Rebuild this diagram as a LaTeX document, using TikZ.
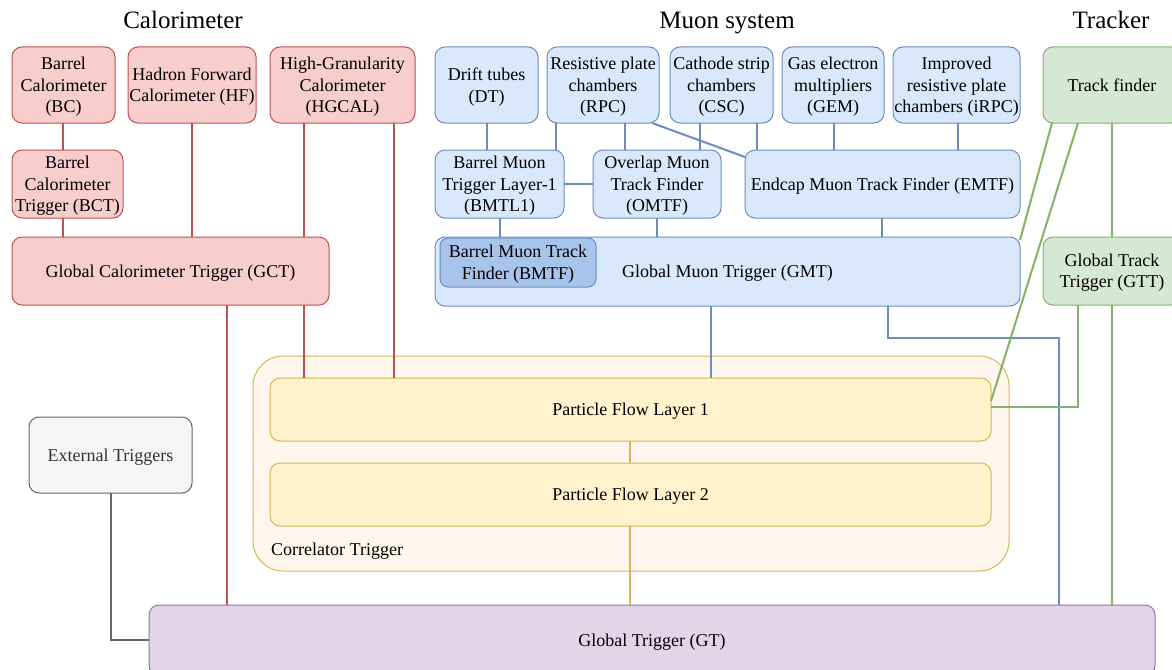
\documentclass[tikz,border=0pt]{standalone}
\usepackage{fontspec}
\setmainfont{Liberation Serif}
\definecolor{redF}{HTML}{F8CECC}
\definecolor{redD}{HTML}{B85450}
\definecolor{blueF}{HTML}{DAE8FC}
\definecolor{blueD}{HTML}{6C8EBF}
\definecolor{bmtfF}{HTML}{A9C4EB}
\definecolor{greenF}{HTML}{D5E8D4}
\definecolor{greenD}{HTML}{82B366}
\definecolor{yelF}{HTML}{FFF2CC}
\definecolor{yelD}{HTML}{D6B656}
\definecolor{ctF}{HTML}{FFF6EE}
\definecolor{grayF}{HTML}{F5F5F5}
\definecolor{grayD}{HTML}{666666}
\definecolor{grayT}{HTML}{333333}
\definecolor{purF}{HTML}{E1D5E7}
\definecolor{purD}{HTML}{9673A6}
\newcommand{\bx}[7]{\node[#6, minimum width={#4-#2}, minimum height={#5-#3}] (#1) at ({(#2+#4)/2},{(#3+#5)/2}) {#7};}
\tikzset{
  base/.style={rounded corners=10pt, line width=1pt, inner sep=0pt, outer sep=0pt, align=center, text depth=0pt, font=\fontsize{18}{21.5}\selectfont},
  redbox/.style={base, fill=redF, draw=redD},
  bluebox/.style={base, fill=blueF, draw=blueD},
  bmtfbox/.style={base, rounded corners=8pt, fill=bmtfF, draw=blueD},
  greenbox/.style={base, fill=greenF, draw=greenD},
  ybox/.style={base, fill=yelF, draw=yelD},
  ctbox/.style={base, rounded corners=30pt, fill=ctF, draw=yelD},
  graybox/.style={base, fill=grayF, draw=grayD, text=grayT},
  purbox/.style={base, fill=purF, draw=purD},
  title/.style={inner sep=0pt, anchor=base, font=\fontsize{25}{30}\selectfont},
  lbl/.style={inner sep=0pt, anchor=west, text depth=0pt, font=\fontsize{18}{21.5}\selectfont},
  redl/.style={draw=redD, line width=2pt},
  bluel/.style={draw=blueD, line width=2pt},
  greenl/.style={draw=greenD, line width=2pt},
  yell/.style={draw=yelD, line width=1.5pt},
  grayl/.style={draw=grayD, line width=2pt},
}
\begin{document}
\begin{tikzpicture}[x=1pt, y=-1pt]
\useasboundingbox (0,0) rectangle (1172,669);
\clip (0,0) rectangle (1172,669);
\fill[white] (0,0) rectangle (1172,669);

% titles
\node[title] (tcal) at (183,29) {Calorimeter};
\node[title] (tmuon) at (727,29) {Muon system};
\node[title] (ttrk) at (1111,29) {Tracker};

% correlator container
\bx{ct}{253}{356}{1009}{571}{ctbox}{}
\node[lbl] (ctl) at (271,549) {Correlator Trigger};

% calorimeter
\bx{bc}{12}{47}{115}{123}{redbox}{Barrel\\Calorimeter\\(BC)}
\bx{hf}{128}{47}{256}{123}{redbox}{Hadron Forward\\Calorimeter (HF)}
\bx{hgcal}{270}{47}{415}{123}{redbox}{High-Granularity\\Calorimeter\\(HGCAL)}
\bx{bct}{12}{150}{123}{218}{redbox}{Barrel\\Calorimeter\\Trigger (BCT)}
\bx{gct}{12}{237}{329}{305}{redbox}{Global Calorimeter Trigger (GCT)}

% muon
\bx{dt}{435}{47}{538}{123}{bluebox}{Drift tubes\\(DT)}
\bx{rpc}{547}{47}{659}{123}{bluebox}{Resistive plate\\chambers\\(RPC)}
\bx{csc}{670}{47}{773}{123}{bluebox}{Cathode strip\\chambers\\(CSC)}
\bx{gem}{782}{47}{884}{123}{bluebox}{Gas electron\\multipliers\\(GEM)}
\bx{irpc}{893}{47}{1020}{123}{bluebox}{Improved\\resistive plate\\chambers (iRPC)}
\bx{bmtl}{435}{150}{564}{218}{bluebox}{Barrel Muon\\Trigger Layer-1\\(BMTL1)}
\bx{omtf}{593}{150}{721}{218}{bluebox}{Overlap Muon\\Track Finder\\(OMTF)}
\bx{emtf}{745}{150}{1020}{218}{bluebox}{Endcap Muon Track Finder (EMTF)}
\bx{gmt}{435}{237}{1020}{306}{bluebox}{Global Muon Trigger (GMT)}
\bx{bmtf}{440}{238}{596}{287}{bmtfbox}{Barrel Muon Track\\Finder (BMTF)}

% tracker
\bx{tf}{1043}{47}{1181}{123}{greenbox}{Track finder}
\bx{gtt}{1043}{237}{1181}{305}{greenbox}{Global Track\\Trigger (GTT)}

% correlator
\bx{pf1}{270}{378}{991}{441}{ybox}{Particle Flow Layer 1}
\bx{pf2}{270}{463}{991}{526}{ybox}{Particle Flow Layer 2}

% external and GT
\bx{ext}{29}{417}{192}{493}{graybox}{External Triggers}
\bx{gt}{149}{605}{1155}{675}{purbox}{Global Trigger (GT)}

% red connectors
\draw[redl] (bc.south -| 63,0) -- (bct.north -| 63,0);
\draw[redl] (bct.south -| 63,0) -- (gct.north -| 63,0);
\draw[redl] (hf.south -| 192,0) -- (gct.north -| 192,0);
\draw[redl] (hgcal.south -| 304,0) -- (gct.north -| 304,0);
\draw[redl] (hgcal.south -| 394,0) -- (pf1.north -| 394,0);
\draw[redl] (gct.south -| 227,0) -- (gt.north -| 227,0);
\draw[redl] (gct.south -| 304,0) -- (pf1.north -| 304,0);

% blue connectors
\draw[bluel] (dt.south -| 487,0) -- (bmtl.north -| 487,0);
\draw[bluel] (rpc.south -| 556,0) -- (bmtl.north -| 556,0);
\draw[bluel] (rpc.south -| 625,0) -- (omtf.north -| 625,0);
\draw[bluel] (rpc.south -| 652,0) -- (emtf.west |- 0,157);
\draw[bluel] (csc.south -| 700,0) -- (omtf.north -| 700,0);
\draw[bluel] (csc.south -| 757,0) -- (emtf.north -| 757,0);
\draw[bluel] (gem.south -| 834,0) -- (emtf.north -| 834,0);
\draw[bluel] (irpc.south -| 958,0) -- (emtf.north -| 958,0);
\draw[bluel] (bmtl.east |- 0,184) -- (omtf.west |- 0,184);
\draw[bluel] (bmtl.south -| 500,0) -- (gmt.north -| 500,0);
\draw[bluel] (omtf.south -| 657,0) -- (gmt.north -| 657,0);
\draw[bluel] (emtf.south -| 882,0) -- (gmt.north -| 882,0);
\draw[bluel] (gmt.south -| 711,0) -- (pf1.north -| 711,0);
\coordinate (gmtbend) at (1059,338);
\draw[bluel] (gmt.south -| 888,0) |- (gmtbend) -- (gt.north -| gmtbend);

% green connectors
\draw[greenl] (tf.south -| 1052,0) -- (gmt.east |- 0,240);
\draw[greenl] (tf.south -| 1078,0) -- (pf1.east |- 0,401);
\draw[greenl] (tf.south -| 1112,0) -- (gtt.north -| 1112,0);
\draw[greenl] (gtt.south -| 1078,0) |- (pf1.east |- 0,407);
\draw[greenl] (gtt.south -| 1112,0) -- (gt.north -| 1112,0);

% yellow connectors
\draw[yell] (pf1.south -| 630,0) -- (pf2.north -| 630,0);
\draw[yell] (pf2.south -| 630,0) -- (gt.north -| 630,0);

% gray connector
\draw[grayl] (ext.south) |- (gt.west);
\end{tikzpicture}
\end{document}
